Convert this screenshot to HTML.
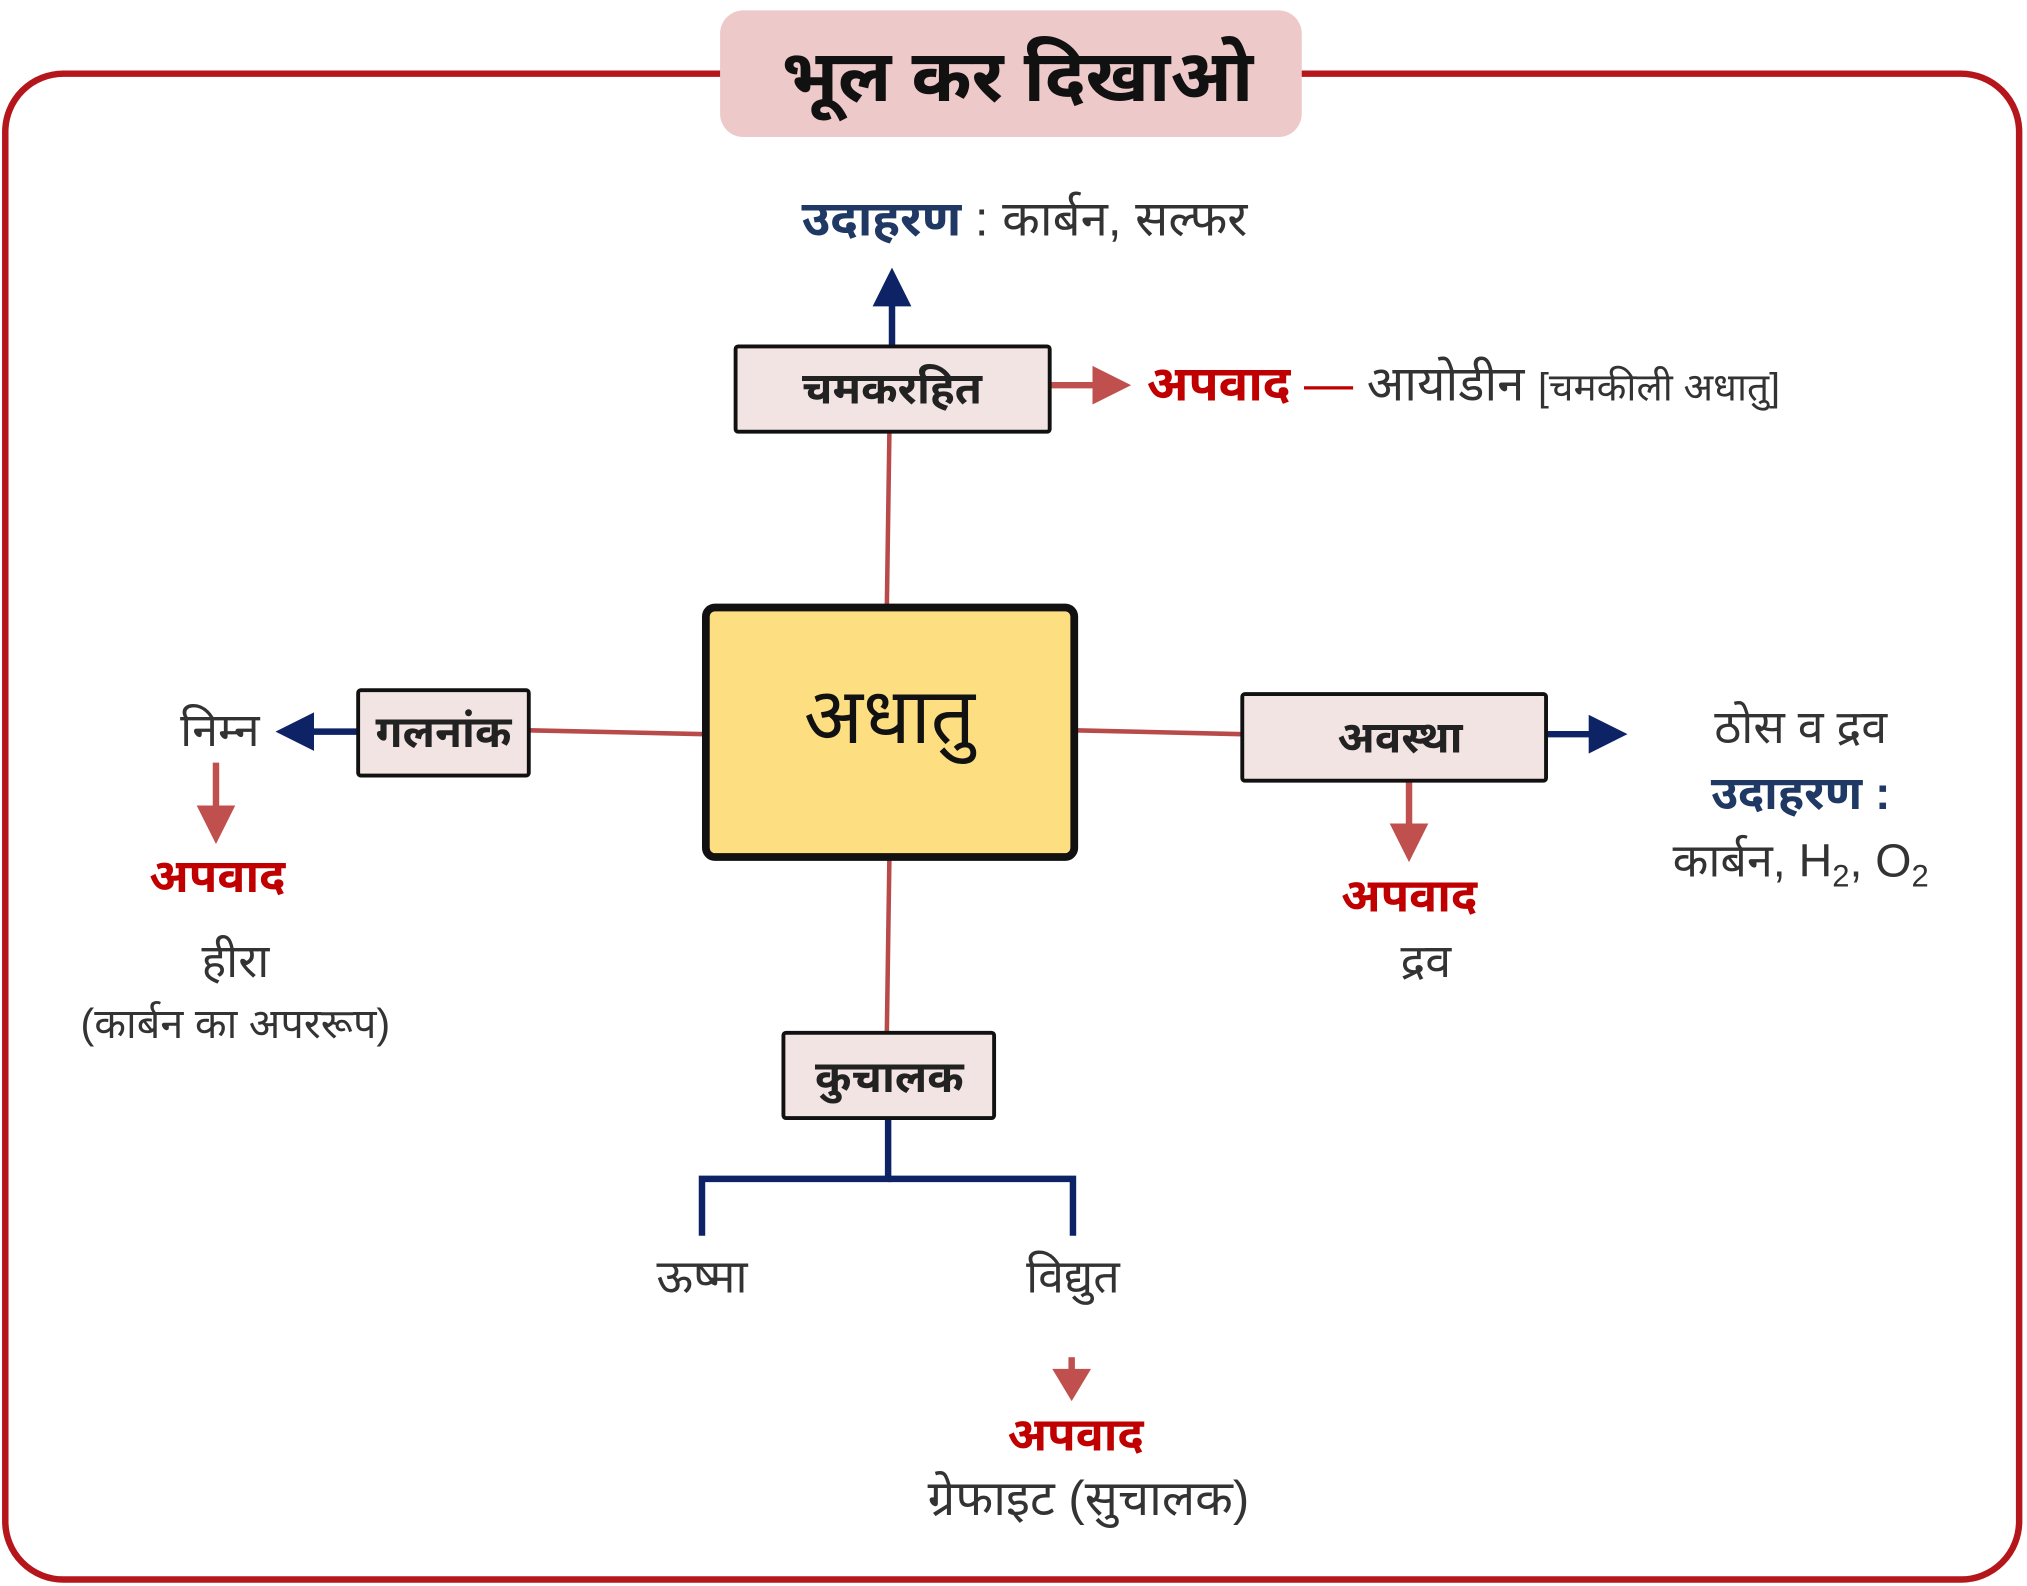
<!DOCTYPE html>
<html><head><meta charset="utf-8">
<style>
html,body{margin:0;padding:0;background:#fff;}
svg{display:block;}
text{font-family:"Liberation Sans","Noto Sans Devanagari","Lohit Devanagari","Mangal",sans-serif;}
</style></head>
<body>
<svg width="2027" height="1586" viewBox="0 0 1568 1227" xmlns="http://www.w3.org/2000/svg">
<defs>
<marker id="an" markerWidth="6" markerHeight="6" refX="3" refY="3" orient="auto" markerUnits="strokeWidth"><path d="M0,0 L6,3 L0,6 Z" fill="#0d2366"/></marker>
<marker id="ar" markerWidth="6" markerHeight="6" refX="3" refY="3" orient="auto" markerUnits="strokeWidth"><path d="M0,0 L6,3 L0,6 Z" fill="#c0504d"/></marker>
</defs>
<rect x="0" y="0" width="1568" height="1227" fill="#fff"/>
<rect x="4" y="57" width="1558" height="1165" rx="45" fill="none" stroke="#b5161b" stroke-width="5"/>
<rect x="557" y="8" width="450" height="98" rx="18" fill="#edc9c9"/>
<text x="787" y="78" font-size="56" font-weight="bold" text-anchor="middle" fill="#111">भूल कर दिखाओ</text>

<g stroke="#b84a4a" stroke-width="3.5" fill="none">
<line x1="688" y1="334" x2="686" y2="470"/>
<line x1="409" y1="565" x2="546" y2="568"/>
<line x1="831" y1="565" x2="961" y2="568"/>
<line x1="688" y1="663" x2="686" y2="799"/>
</g>
<g stroke="#0d2366" stroke-width="5" fill="none">
<line x1="690" y1="268" x2="690" y2="222" marker-end="url(#an)"/>
<line x1="277" y1="566" x2="228" y2="566" marker-end="url(#an)"/>
<line x1="1196" y1="568" x2="1244" y2="568" marker-end="url(#an)"/>
<polyline points="687,865 687,912 543,912 543,956"/>
<polyline points="687,912 830,912 830,956"/>
</g>
<g stroke="#c0504d" stroke-width="5" fill="none">
<line x1="812" y1="298" x2="860" y2="298" marker-end="url(#ar)"/>
<line x1="167" y1="590" x2="167" y2="638" marker-end="url(#ar)"/>
<line x1="1090" y1="604" x2="1090" y2="652" marker-end="url(#ar)"/>
<line x1="829" y1="1050" x2="829" y2="1062"/>
</g>
<path d="M814,1059 L844,1059 L829,1084 Z" fill="#c0504d"/>

<rect x="546" y="470" width="285" height="193" rx="7" fill="#fddf82" stroke="#111" stroke-width="6"/>
<text x="688" y="575" font-size="60" text-anchor="middle" fill="#111">अधातु</text>
<g fill="#f3e4e4" stroke="#111" stroke-width="3">
<rect x="569" y="268" width="243" height="66" rx="2"/>
<rect x="277" y="534" width="132" height="66" rx="2"/>
<rect x="961" y="537" width="235" height="67" rx="2"/>
<rect x="606" y="799" width="163" height="66" rx="2"/>
</g>
<g font-size="34" font-weight="bold" text-anchor="middle" fill="#222">
<text x="690" y="312">चमकरहित</text>
<text x="343" y="578">गलनांक</text>
<text x="1083" y="582">अवस्था</text>
<text x="688" y="845">कुचालक</text>
</g>

<text x="620" y="182" font-size="38" fill="#333"><tspan font-weight="bold" fill="#1f3864">उदाहरण</tspan> : कार्बन, सल्फर</text>
<text x="887" y="310" font-size="38" fill="#333"><tspan font-weight="bold" fill="#c00000">अपवाद</tspan><tspan fill="#c00000"> — </tspan>आयोडीन <tspan font-size="30">[चमकीली अधातु]</tspan></text>

<g font-size="36" text-anchor="middle" fill="#333">
<text x="170" y="577">निम्न</text>
<text x="168" y="690" font-weight="bold" fill="#c00000">अपवाद</text>
<text x="182" y="756">हीरा</text>
<text x="182" y="803" font-size="32">(कार्बन का अपररूप)</text>

<text x="1393" y="575">ठोस व द्रव</text>
<text x="1393" y="626" font-weight="bold" fill="#1f3864">उदाहरण :</text>
<text x="1393" y="678">कार्बन, H<tspan font-size="24" dy="8">2</tspan><tspan dy="-8">, O</tspan><tspan font-size="24" dy="8">2</tspan></text>

<text x="1090" y="705" font-weight="bold" fill="#c00000">अपवाद</text>
<text x="1103" y="756">द्रव</text>

<text x="543" y="1000">ऊष्मा</text>
<text x="830" y="1000">विद्युत</text>
<text x="832" y="1122" font-weight="bold" fill="#c00000">अपवाद</text>
<text x="842" y="1172" font-size="38">ग्रेफाइट (सुचालक)</text>
</g>
</svg>
</body></html>
